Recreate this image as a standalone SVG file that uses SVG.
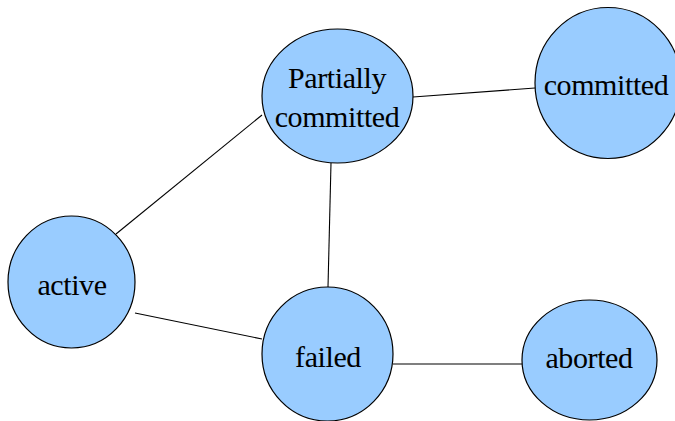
<svg xmlns="http://www.w3.org/2000/svg" width="675" height="421" viewBox="0 0 675 421">
<style>
.n{fill:#99ccff;stroke:#000;stroke-width:1.2}
.t{font-family:"Liberation Serif","Times New Roman",serif;font-size:30px;letter-spacing:-0.4px;fill:#000;text-anchor:middle}
.e{stroke:#000;stroke-width:1.1;fill:none}
</style>
<rect width="675" height="421" fill="#fff"/>
<g id="connectors">
<line class="e" x1="116" y1="234" x2="262" y2="115"/>
<line class="e" x1="135" y1="313" x2="262" y2="339"/>
<line class="e" x1="331" y1="163" x2="328" y2="287"/>
<line class="e" x1="413" y1="97" x2="535" y2="88"/>
<line class="e" x1="393" y1="364" x2="522" y2="364"/>
</g>
<g id="active">
<ellipse class="n" cx="71.5" cy="282" rx="63.5" ry="66"/>
<text class="t" x="72" y="295">active</text>
</g>
<g id="partially-committed">
<ellipse class="n" cx="337.5" cy="96" rx="75.5" ry="67"/>
<text class="t" x="337" y="88">Partially</text>
<text class="t" x="337" y="127">committed</text>
</g>
<g id="committed">
<ellipse class="n" cx="608" cy="83" rx="73" ry="75.5"/>
<text class="t" x="606" y="95">committed</text>
</g>
<g id="failed">
<ellipse class="n" cx="327.5" cy="354" rx="65.5" ry="67"/>
<text class="t" x="328" y="367">failed</text>
</g>
<g id="aborted">
<ellipse class="n" cx="589.5" cy="360" rx="67.5" ry="60"/>
<text class="t" x="589" y="368">aborted</text>
</g>
</svg>
